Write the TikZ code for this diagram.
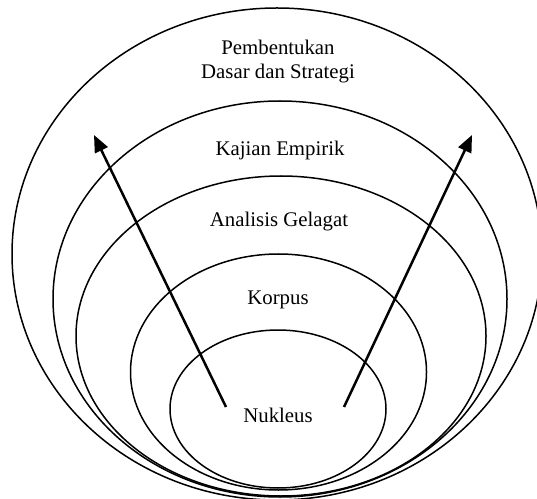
\documentclass[tikz,border=0pt]{standalone}
\usepackage{fontspec}
\setmainfont{Liberation Serif}
\usetikzlibrary{arrows.meta}
\begin{document}
\begin{tikzpicture}[x=1pt,y=1pt,
  ring/.style={draw=black,line width=1.5pt},
  lbl/.style={font=\fontsize{20.8}{24}\selectfont,inner sep=0pt,align=center},
  arr/.style={line width=2.5pt,-{Triangle[length=17pt,width=14pt]}}]
\useasboundingbox[fill=white] (0,0) rectangle (537,498);
\draw[ring] (277,244) ellipse (265 and 246);
\draw[ring] (280,199) ellipse (227 and 198);
\draw[ring] (281,162) ellipse (205 and 160);
\draw[ring] (278.5,126) ellipse (148 and 118);
\draw[ring] (278,89) ellipse (108 and 79);
\node[lbl] (pd) at (278,436) {Pembentukan\\Dasar dan Strategi};
\node[lbl] (ke) at (280,347) {Kajian Empirik};
\node[lbl] (ag) at (279,276) {Analisis Gelagat};
\node[lbl] (ko) at (278,198) {Korpus};
\node[lbl] (nu) at (278,83) {Nukleus};
\coordinate (ls) at (226,91);
\coordinate (le) at (94,363);
\coordinate (rs) at (344,91);
\coordinate (re) at (472,363);
\draw[arr] (ls) -- (le);
\draw[arr] (rs) -- (re);
\end{tikzpicture}
\end{document}
